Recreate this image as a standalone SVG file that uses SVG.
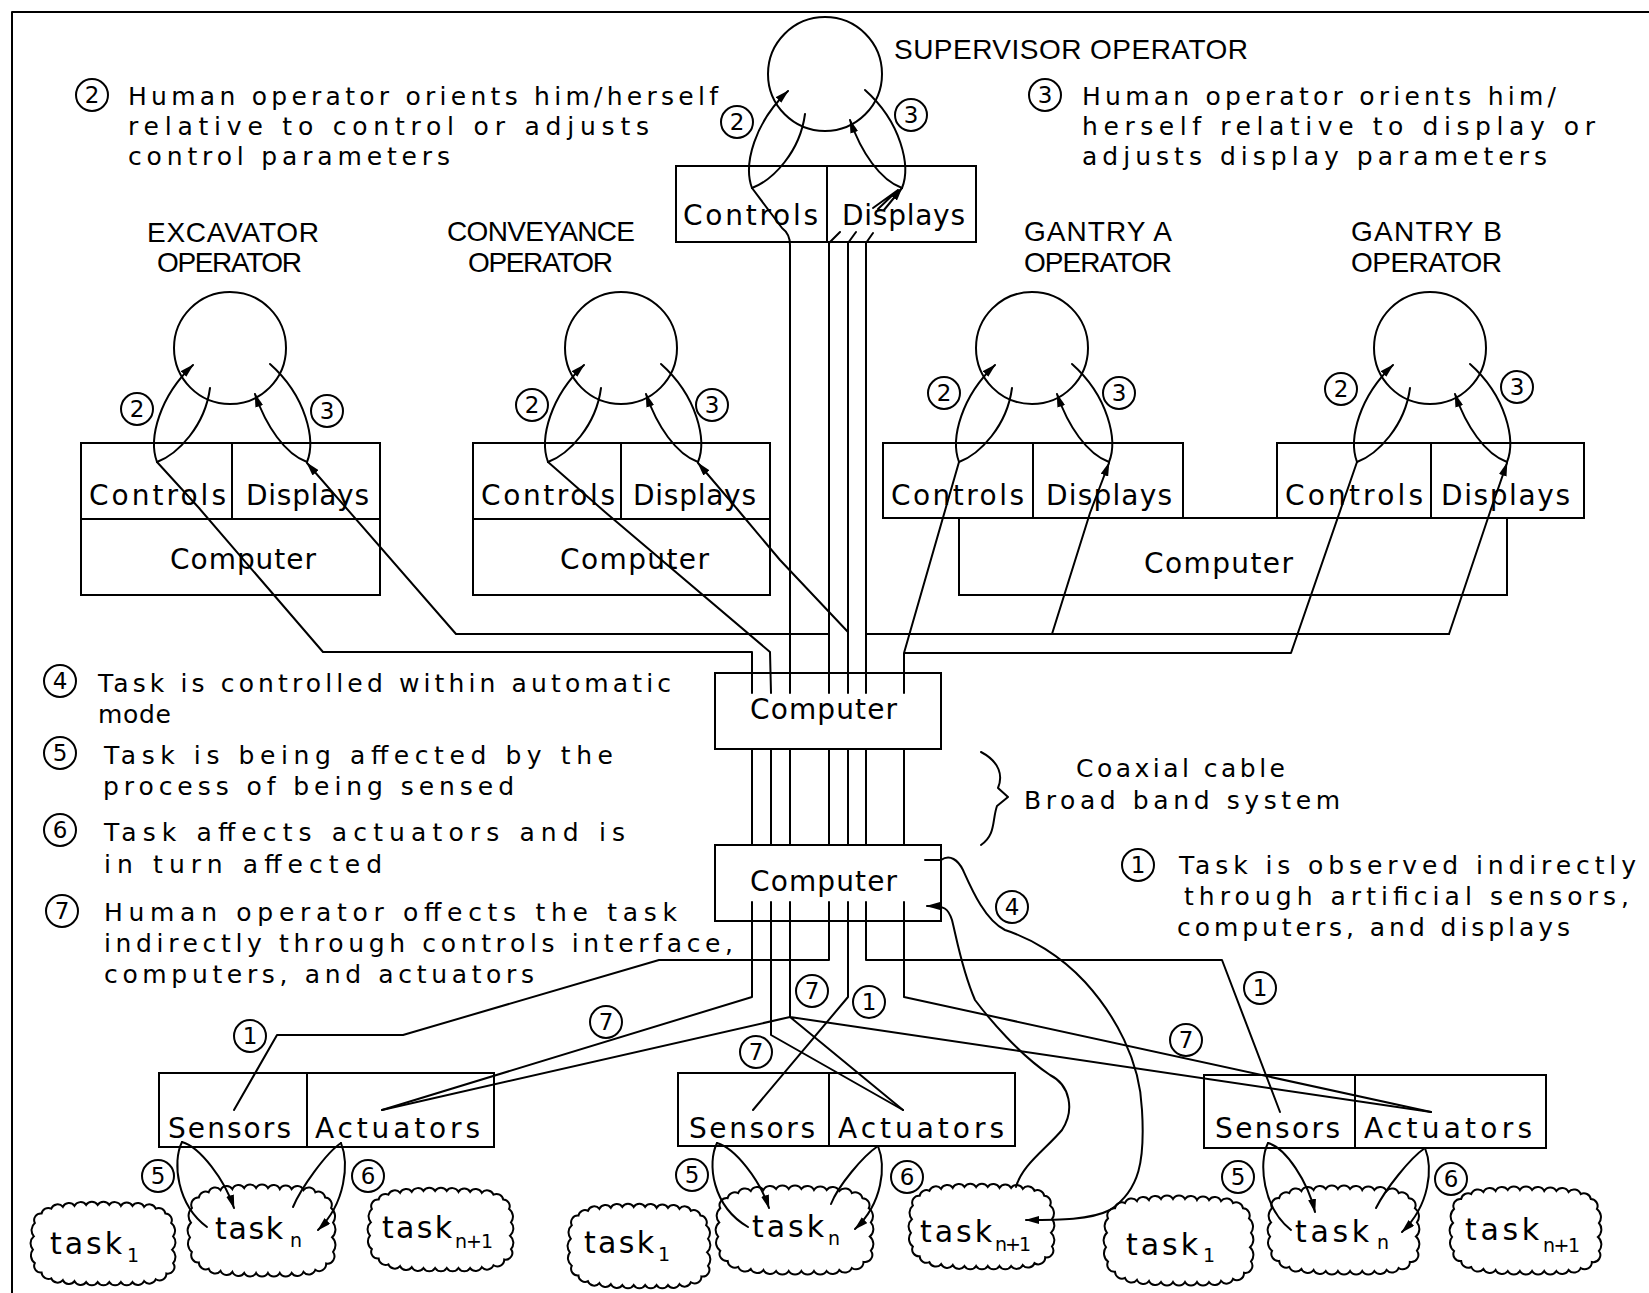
<svg xmlns="http://www.w3.org/2000/svg" xmlns:xlink="http://www.w3.org/1999/xlink" width="1649" height="1293" viewBox="0 0 1649 1293">
<style>
.ln{fill:none;stroke:#000;stroke-width:2;stroke-linejoin:round;stroke-linecap:round}
.bx{fill:none;stroke:#000;stroke-width:2}
.op{fill:none;stroke:#000;stroke-width:2}
.t{font-family:"DejaVu Sans","Liberation Sans",sans-serif;font-size:28px;fill:#000}
.nt{font-size:25px}
.hd{font-family:"Liberation Sans",Arial,sans-serif;font-size:28px}
.tk{font-size:30px}
.sb{font-size:19px}
.num circle{fill:#fff;stroke:#000;stroke-width:2}
.num text{font-family:"DejaVu Sans","Liberation Sans",sans-serif;font-size:23px;text-anchor:middle;fill:#000}
.cl{fill:#fff;stroke:#000;stroke-width:2;vector-effect:non-scaling-stroke}
</style>
<defs>
<marker id="ah" viewBox="0 0 14 8" refX="13" refY="4" markerWidth="14" markerHeight="8" markerUnits="userSpaceOnUse" orient="auto"><path d="M0,0 L14,4 L0,8 z" fill="#000"/></marker>
<path id="cloud" class="cl" d="M22,6 A7,7 0 0 1 34,4 A7,7 0 0 1 46,3 A7,7 0 0 1 58,2 A7,7 0 0 1 70,2 A7,7 0 0 1 82,2 A7,7 0 0 1 94,3 A7,7 0 0 1 106,3 A7,7 0 0 1 118,4 A7,7 0 0 1 130,6 A7,7 0 0 1 140,11 A7,7 0 0 1 146,21 A10,10 0 0 1 148,35 A10,10 0 0 1 147,49 A10,10 0 0 1 148,63 A7,7 0 0 1 141,74 A7,7 0 0 1 130,80 A7,7 0 0 1 118,82 A7,7 0 0 1 106,83 A7,7 0 0 1 94,83 A7,7 0 0 1 82,83 A7,7 0 0 1 70,83 A7,7 0 0 1 58,83 A7,7 0 0 1 46,82 A7,7 0 0 1 34,81 A7,7 0 0 1 22,79 A7,7 0 0 1 12,73 A7,7 0 0 1 5,63 A10,10 0 0 1 3,49 A10,10 0 0 1 4,35 A10,10 0 0 1 5,21 A7,7 0 0 1 12,11 A7,7 0 0 1 22,6 Z"/>
</defs>
<rect x="0" y="0" width="1649" height="1293" fill="#fff"/>

<g id="frame">
<path class="ln" d="M12,12 L1649,12 M12,12 L12,1293"/>
</g>

<g id="supervisor">
<circle class="op" cx="825" cy="74" r="57"/>
<rect class="bx" x="676" y="166" width="300" height="76"/>
<path class="ln" d="M827,166 L827,242"/>
<text class="t" x="683" y="225" textLength="135">Controls</text>
<text class="t" x="842" y="225" textLength="123">Displays</text>
<text class="t hd" x="894" y="59" textLength="354">SUPERVISOR OPERATOR</text>
</g>

<g id="excavator">
<circle class="op" cx="230" cy="348" r="56"/>
<rect class="bx" x="81" y="443" width="299" height="152"/>
<path class="ln" d="M81,519 L380,519 M232,443 L232,519"/>
<text class="t" x="89" y="505" textLength="137">Controls</text>
<text class="t" x="246" y="505" textLength="123">Displays</text>
<text class="t" x="170" y="569" textLength="146">Computer</text>
<text class="t hd" x="147" y="242" textLength="172">EXCAVATOR</text>
<text class="t hd" x="157" y="272" textLength="145">OPERATOR</text>
</g>

<g id="conveyance">
<circle class="op" cx="621" cy="348" r="56"/>
<rect class="bx" x="473" y="443" width="297" height="152"/>
<path class="ln" d="M473,519 L770,519 M621,443 L621,519"/>
<text class="t" x="481" y="505" textLength="134">Controls</text>
<text class="t" x="633" y="505" textLength="123">Displays</text>
<text class="t" x="560" y="569" textLength="149">Computer</text>
<text class="t hd" x="447" y="241" textLength="188">CONVEYANCE</text>
<text class="t hd" x="468" y="272" textLength="145">OPERATOR</text>
</g>

<g id="gantry-a">
<circle class="op" cx="1032" cy="348" r="56"/>
<rect class="bx" x="883" y="443" width="300" height="75"/>
<path class="ln" d="M1033,443 L1033,518"/>
<text class="t" x="891" y="505" textLength="133">Controls</text>
<text class="t" x="1046" y="505" textLength="126">Displays</text>
<text class="t hd" x="1024" y="241" textLength="148">GANTRY A</text>
<text class="t hd" x="1024" y="272" textLength="148">OPERATOR</text>
</g>

<g id="gantry-b">
<circle class="op" cx="1430" cy="348" r="56"/>
<rect class="bx" x="1277" y="443" width="307" height="75"/>
<path class="ln" d="M1431,443 L1431,518"/>
<text class="t" x="1285" y="505" textLength="138">Controls</text>
<text class="t" x="1441" y="505" textLength="129">Displays</text>
<text class="t hd" x="1351" y="241" textLength="151">GANTRY B</text>
<text class="t hd" x="1351" y="272" textLength="151">OPERATOR</text>
</g>

<g id="gantry-computer">
<rect class="bx" x="959" y="518" width="548" height="77"/>
<path class="ln" d="M1183,518 L1277,518"/>
<text class="t" x="1144" y="573" textLength="149">Computer</text>
</g>

<g id="upper-computer">
<rect class="bx" x="715" y="673" width="226" height="76"/>
<text class="t" x="750" y="719" textLength="147">Computer</text>
</g>

<g id="lower-computer">
<rect class="bx" x="715" y="845" width="226" height="76"/>
<text class="t" x="750" y="891" textLength="147">Computer</text>
</g>

<g id="site-left">
<rect class="bx" x="159" y="1073" width="335" height="74"/>
<path class="ln" d="M307,1073 L307,1147"/>
<text class="t" x="168" y="1138" textLength="123">Sensors</text>
<text class="t" x="315" y="1138" textLength="165">Actuators</text>
</g>
<g id="site-middle">
<rect class="bx" x="678" y="1073" width="337" height="73"/>
<path class="ln" d="M829,1073 L829,1146"/>
<text class="t" x="689" y="1138" textLength="126">Sensors</text>
<text class="t" x="838" y="1138" textLength="166">Actuators</text>
</g>
<g id="site-right">
<rect class="bx" x="1204" y="1075" width="342" height="73"/>
<path class="ln" d="M1355,1075 L1355,1148"/>
<text class="t" x="1215" y="1138" textLength="125">Sensors</text>
<text class="t" x="1364" y="1138" textLength="168">Actuators</text>
</g>

<g id="tasks">
<g id="task-l1"><use xlink:href="#cloud" href="#cloud" transform="translate(30,1203) scale(0.967,0.953)"/><text class="t tk" x="50" y="1254" textLength="72">task</text><text class="t sb" x="127" y="1262">1</text></g>
<g id="task-ln"><use xlink:href="#cloud" href="#cloud" transform="translate(187,1186) scale(0.987,1.047)"/><text class="t tk" x="215" y="1239" textLength="68">task</text><text class="t sb" x="290" y="1247">n</text></g>
<g id="task-ln1"><use xlink:href="#cloud" href="#cloud" transform="translate(367,1189) scale(0.973,0.953)"/><text class="t tk" x="382" y="1238" textLength="70">task</text><text class="t sb" x="455" y="1248" textLength="38">n+1</text></g>
<g id="task-m1"><use xlink:href="#cloud" href="#cloud" transform="translate(567,1205) scale(0.953,0.965)"/><text class="t tk" x="584" y="1253" textLength="70">task</text><text class="t sb" x="658" y="1261">1</text></g>
<g id="task-mn"><use xlink:href="#cloud" href="#cloud" transform="translate(715,1187) scale(1.053,1.012)"/><text class="t tk" x="752" y="1237" textLength="72">task</text><text class="t sb" x="828" y="1245">n</text></g>
<g id="task-mn1"><use xlink:href="#cloud" href="#cloud" transform="translate(908,1185) scale(0.973,0.976)"/><text class="t tk" x="920" y="1242" textLength="72">task</text><text class="t sb" x="995" y="1251" textLength="36">n+1</text></g>
<g id="task-r1"><use xlink:href="#cloud" href="#cloud" transform="translate(1103,1197) scale(1,1.024)"/><text class="t tk" x="1126" y="1255" textLength="72">task</text><text class="t sb" x="1203" y="1262">1</text></g>
<g id="task-rn"><use xlink:href="#cloud" href="#cloud" transform="translate(1267,1187) scale(1.013,1.012)"/><text class="t tk" x="1295" y="1242" textLength="74">task</text><text class="t sb" x="1377" y="1249">n</text></g>
<g id="task-rn1"><use xlink:href="#cloud" href="#cloud" transform="translate(1449,1188) scale(1.013,1)"/><text class="t tk" x="1465" y="1240" textLength="74">task</text><text class="t sb" x="1543" y="1252" textLength="37">n+1</text></g>
</g>

<g id="connectors">
<path class="ln" marker-end="url(#ah)" d="M752,188 C743,164 755,122 788,91"/>
<path class="ln" d="M752,188 C773,180 800,152 805,114"/>
<path class="ln" marker-end="url(#ah)" d="M902,188 C880,180 861,152 850,120"/>
<path class="ln" d="M902,188 C911,166 901,122 865,90"/>

<path class="ln" marker-end="url(#ah)" d="M157,462 C148,438 160,396 193,365"/>
<path class="ln" d="M157,462 C178,454 205,426 210,388"/>
<path class="ln" marker-end="url(#ah)" d="M307,462 C285,454 266,426 255,394"/>
<path class="ln" d="M307,462 C316,440 306,396 270,364"/>

<path class="ln" marker-end="url(#ah)" d="M548,462 C539,438 551,396 584,365"/>
<path class="ln" d="M548,462 C569,454 596,426 601,388"/>
<path class="ln" marker-end="url(#ah)" d="M698,462 C676,454 657,426 646,394"/>
<path class="ln" d="M698,462 C707,440 697,396 661,364"/>

<path class="ln" marker-end="url(#ah)" d="M959,462 C950,438 962,396 995,365"/>
<path class="ln" d="M959,462 C980,454 1007,426 1012,388"/>
<path class="ln" marker-end="url(#ah)" d="M1109,462 C1087,454 1068,426 1057,394"/>
<path class="ln" d="M1109,462 C1118,440 1108,396 1072,364"/>

<path class="ln" marker-end="url(#ah)" d="M1357,462 C1348,438 1360,396 1393,365"/>
<path class="ln" d="M1357,462 C1378,454 1405,426 1410,388"/>
<path class="ln" marker-end="url(#ah)" d="M1507,462 C1485,454 1466,426 1455,394"/>
<path class="ln" d="M1507,462 C1516,440 1506,396 1470,364"/>

<path class="ln" d="M752,188 L782,228 Q790,234 790,245 L790,693"/>
<path class="ln" d="M829,693 L829,243 L840,232 M848,693 L848,243 L856,232 M866,693 L866,243 L873,233"/>
<path class="ln" d="M873,208 L898,190 M878,209 L898,190"/>
<path class="ln" marker-end="url(#ah)" d="M884,210 L902,188"/>

<path class="ln" d="M157,462 L199,508 L323,652 L752,652 L752,693"/>
<path class="ln" marker-end="url(#ah)" d="M829,634 L456,634 L307,463"/>
<path class="ln" d="M548,462 L605,512 L770,652 L771,693"/>
<path class="ln" marker-end="url(#ah)" d="M848,632 L780,560 L738,510 L698,463"/>
<path class="ln" d="M959,462 L904,653 L904,693 M904,653 L1291,653 L1357,462"/>
<path class="ln" d="M866,634 L1449,634"/>
<path class="ln" marker-end="url(#ah)" d="M1052,634 L1090,513 L1109,463"/>
<path class="ln" marker-end="url(#ah)" d="M1449,634 L1490,512 L1507,463"/>

<path class="ln" d="M752,749 L752,845 M771,749 L771,845 M790,749 L790,845 M829,749 L829,845 M848,749 L848,845 M866,749 L866,845 M904,749 L904,845"/>

<path class="ln" d="M752,902 L752,997 L382,1110"/>
<path class="ln" d="M771,902 L771,1035 L903,1110"/>
<path class="ln" d="M790,902 L790,1017 L382,1110 M790,1017 L903,1110 M790,1017 L1431,1112"/>
<path class="ln" d="M829,902 L829,960 L659,960 L403,1035 L277,1035 L234,1110"/>
<path class="ln" d="M848,902 L848,997 L753,1110"/>
<path class="ln" d="M866,902 L866,960 L1222,960 L1280,1112"/>
<path class="ln" d="M904,902 L904,997 L1431,1112"/>

<path class="ln" marker-end="url(#ah)" d="M925,860 L941,860 C950,854 958,860 963,870 C972,890 985,920 1005,930 C1030,938 1060,955 1085,982 C1115,1015 1140,1060 1142,1110 C1145,1160 1140,1190 1110,1210 C1090,1220 1060,1220 1026,1220"/>
<path class="ln" marker-end="url(#ah)" d="M1016,1187 C1022,1165 1045,1150 1062,1130 C1075,1110 1070,1085 1050,1075 C1020,1055 990,1020 975,1000 C962,970 957,940 952,920 C948,908 945,906 927,906"/>

<path class="ln" marker-end="url(#ah)" d="M182,1142 C200,1147 225,1180 234,1208"/>
<path class="ln" d="M182,1142 C172,1162 177,1205 207,1227"/>
<path class="ln" d="M341,1143 C326,1153 301,1188 293,1207"/>
<path class="ln" marker-end="url(#ah)" d="M341,1143 C349,1163 346,1203 318,1230"/>

<path class="ln" marker-end="url(#ah)" d="M717,1143 C735,1148 760,1180 769,1208"/>
<path class="ln" d="M717,1143 C707,1163 712,1206 748,1227"/>
<path class="ln" d="M878,1146 C863,1156 838,1186 831,1204"/>
<path class="ln" marker-end="url(#ah)" d="M878,1146 C886,1166 883,1203 855,1229"/>

<path class="ln" marker-end="url(#ah)" d="M1268,1143 C1286,1148 1308,1182 1315,1212"/>
<path class="ln" d="M1268,1143 C1258,1163 1263,1208 1291,1230"/>
<path class="ln" d="M1425,1148 C1410,1158 1385,1190 1376,1208"/>
<path class="ln" marker-end="url(#ah)" d="M1425,1148 C1433,1168 1430,1205 1402,1232"/>

<path class="ln" d="M981,752 C1000,762 1003,776 998,788 L1008,797 L997,806 C992,820 996,835 981,845"/>
</g>

<g id="labels">
<g class="num"><circle cx="737" cy="122" r="16"/><text x="737" y="130">2</text></g>
<g class="num"><circle cx="911" cy="115" r="16"/><text x="911" y="123">3</text></g>
<g class="num"><circle cx="137" cy="409" r="16"/><text x="137" y="417">2</text></g>
<g class="num"><circle cx="327" cy="411" r="16"/><text x="327" y="419">3</text></g>
<g class="num"><circle cx="532" cy="405" r="16"/><text x="532" y="413">2</text></g>
<g class="num"><circle cx="712" cy="405" r="16"/><text x="712" y="413">3</text></g>
<g class="num"><circle cx="944" cy="393" r="16"/><text x="944" y="401">2</text></g>
<g class="num"><circle cx="1119" cy="393" r="16"/><text x="1119" y="401">3</text></g>
<g class="num"><circle cx="1341" cy="389" r="16"/><text x="1341" y="397">2</text></g>
<g class="num"><circle cx="1517" cy="387" r="16"/><text x="1517" y="395">3</text></g>
<g class="num"><circle cx="1012" cy="907" r="16"/><text x="1012" y="915">4</text></g>
<g class="num"><circle cx="250" cy="1036" r="16"/><text x="250" y="1044">1</text></g>
<g class="num"><circle cx="606" cy="1022" r="16"/><text x="606" y="1030">7</text></g>
<g class="num"><circle cx="812" cy="991" r="16"/><text x="812" y="999">7</text></g>
<g class="num"><circle cx="869" cy="1002" r="16"/><text x="869" y="1010">1</text></g>
<g class="num"><circle cx="756" cy="1052" r="16"/><text x="756" y="1060">7</text></g>
<g class="num"><circle cx="1260" cy="988" r="16"/><text x="1260" y="996">1</text></g>
<g class="num"><circle cx="1186" cy="1040" r="16"/><text x="1186" y="1048">7</text></g>
<g class="num"><circle cx="158" cy="1176" r="16"/><text x="158" y="1184">5</text></g>
<g class="num"><circle cx="368" cy="1176" r="16"/><text x="368" y="1184">6</text></g>
<g class="num"><circle cx="692" cy="1175" r="16"/><text x="692" y="1183">5</text></g>
<g class="num"><circle cx="907" cy="1177" r="16"/><text x="907" y="1185">6</text></g>
<g class="num"><circle cx="1238" cy="1177" r="16"/><text x="1238" y="1185">5</text></g>
<g class="num"><circle cx="1451" cy="1179" r="16"/><text x="1451" y="1187">6</text></g>
</g>

<g id="notes">
<g class="num"><circle cx="92" cy="95" r="16"/><text x="92" y="103">2</text></g>
<text class="t nt" x="128" y="105" textLength="590">Human operator orients him/herself</text>
<text class="t nt" x="128" y="135" textLength="521">relative to control or adjusts</text>
<text class="t nt" x="128" y="165" textLength="322">control parameters</text>

<g class="num"><circle cx="1045" cy="95" r="16"/><text x="1045" y="103">3</text></g>
<text class="t nt" x="1082" y="105" textLength="474">Human operator orients him/</text>
<text class="t nt" x="1082" y="135" textLength="513">herself relative to display or</text>
<text class="t nt" x="1082" y="165" textLength="465">adjusts display parameters</text>

<g class="num"><circle cx="60" cy="681" r="16"/><text x="60" y="689">4</text></g>
<text class="t nt" x="98" y="692" textLength="573">Task is controlled within automatic</text>
<text class="t nt" x="98" y="723" textLength="73">mode</text>

<g class="num"><circle cx="60" cy="753" r="16"/><text x="60" y="761">5</text></g>
<text class="t nt" x="104" y="764" textLength="509">Task is being affected by the</text>
<text class="t nt" x="103" y="795" textLength="411">process of being sensed</text>

<g class="num"><circle cx="60" cy="830" r="16"/><text x="60" y="838">6</text></g>
<text class="t nt" x="104" y="841" textLength="521">Task affects actuators and is</text>
<text class="t nt" x="104" y="873" textLength="278">in turn affected</text>

<g class="num"><circle cx="62" cy="911" r="16"/><text x="62" y="919">7</text></g>
<text class="t nt" x="104" y="921" textLength="573">Human operator offects the task</text>
<text class="t nt" x="104" y="952" textLength="629">indirectly through controls interface,</text>
<text class="t nt" x="104" y="983" textLength="430">computers, and actuators</text>

<g class="num"><circle cx="1138" cy="865" r="16"/><text x="1138" y="873">1</text></g>
<text class="t nt" x="1179" y="874" textLength="457">Task is observed indirectly</text>
<text class="t nt" x="1184" y="905" textLength="445">through artificial sensors,</text>
<text class="t nt" x="1177" y="936" textLength="393">computers, and displays</text>

<text class="t nt" x="1076" y="777" textLength="209">Coaxial cable</text>
<text class="t nt" x="1024" y="809" textLength="316">Broad band system</text>
</g>
</svg>
